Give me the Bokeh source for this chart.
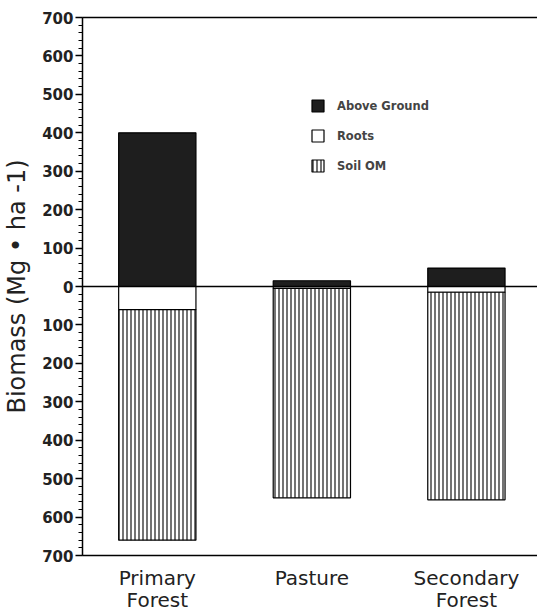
from bokeh.plotting import figure
from bokeh.models import (ColumnDataSource, Range1d, LinearAxis, FixedTicker, Span,
                          Legend, LegendItem)
from bokeh.embed import file_html
from bokeh.resources import INLINE

categories = ["Primary Forest", "Pasture", "Secondary Forest"]
cat_labels = ["Primary\nForest", "Pasture", "Secondary\nForest"]
above_ground = [400, 15, 48]
roots = [60, 5, 15]
soil_om = [600, 545, 540]
y_ticks = list(range(-700, 701, 100))

xs = list(range(len(categories)))
root_bottom = [-r for r in roots]
soil_bottom = [-(r + s) for r, s in zip(roots, soil_om)]

src = ColumnDataSource(dict(x=xs, above=above_ground, zero=[0] * 3,
                            rb=root_bottom, sb=soil_bottom))

FONT = "DejaVu Sans"

p = figure(frame_width=455, frame_height=538, output_backend="svg",
           toolbar_location=None,
           x_range=Range1d(-0.484, 2.46), y_range=Range1d(-700, 700),
           min_border_left=81, min_border_right=0, min_border_top=17,
           min_border_bottom=58, x_axis_location="below")
p.outline_line_color = None
p.grid.grid_line_color = None
p.background_fill_color = "white"

w = 0.5
r_ag = p.vbar(x="x", top="above", bottom="zero", width=w, source=src,
              fill_color="#1e1e1e", line_color="black", line_width=1.2)
r_rt = p.vbar(x="x", top="zero", bottom="rb", width=w, source=src,
              fill_color="white", line_color="black", line_width=1.2)
r_so = p.vbar(x="x", top="rb", bottom="sb", width=w, source=src,
              fill_color="white", line_color="black", line_width=1.2,
              hatch_pattern="|", hatch_color="black", hatch_scale=4,
              hatch_weight=1.1)

p.add_layout(Span(location=0, dimension="width", line_color="black",
                  line_width=1.5))

# y axis
ya = p.yaxis[0]
ya.ticker = FixedTicker(ticks=y_ticks,
                        minor_ticks=list(range(-700, 701, 20)))
ya.major_label_overrides = {t: str(abs(t)) for t in y_ticks}
ya.major_label_text_font = FONT
ya.major_label_text_font_size = "15px"
ya.major_label_text_font_style = "bold"
ya.major_label_text_color = "#222222"
ya.major_tick_out = 7
ya.major_tick_in = 0
ya.minor_tick_out = 4
ya.minor_tick_in = 0
ya.axis_line_width = 1.5
ya.major_tick_line_width = 1.3
ya.major_label_standoff = 2
ya.axis_label = "Biomass (Mg \u2022 ha -1)"
ya.axis_label_text_font = FONT
ya.axis_label_text_font_size = "24px"
ya.axis_label_text_font_style = "normal"
ya.axis_label_text_color = "#222222"
ya.axis_label_standoff = 8

# x axis
xa = p.xaxis[0]
xa.ticker = FixedTicker(ticks=xs)
xa.major_label_overrides = {i: lab for i, lab in zip(xs, cat_labels)}
xa.major_label_text_font = FONT
xa.major_label_text_font_size = "20px"
xa.major_label_text_line_height = 0.95
xa.major_label_text_color = "#222222"
xa.major_tick_line_color = None
xa.minor_tick_line_color = None
xa.axis_line_width = 1.5
xa.major_label_standoff = 4

# top line
top = LinearAxis(major_tick_line_color=None, minor_tick_line_color=None,
                 major_label_text_font_size="0px", axis_line_width=1.5)
top.ticker = FixedTicker(ticks=[])
p.add_layout(top, "above")

legend = Legend(items=[LegendItem(label="Above Ground", renderers=[r_ag]),
                       LegendItem(label="Roots", renderers=[r_rt]),
                       LegendItem(label="Soil OM", renderers=[r_so])],
                location=(228, 382), padding=0, margin=0, spacing=15,
                glyph_width=15, glyph_height=15, label_height=15,
                label_standoff=12, label_text_font=FONT,
                label_text_font_size="11.5px", label_text_font_style="bold",
                border_line_color=None, background_fill_alpha=0)
p.add_layout(legend)

open("out.html", "w").write(file_html(p, INLINE))
